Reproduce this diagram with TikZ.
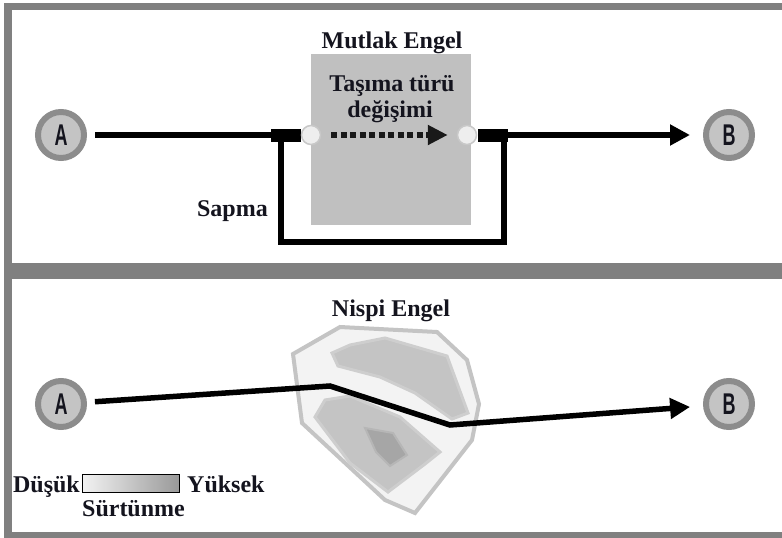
\documentclass[tikz,border=0pt]{standalone}
\usepackage{fontspec}
\usepackage{graphicx}
\setmainfont{Liberation Serif}
\newfontfamily\letterfont{Liberation Sans}
\usetikzlibrary{arrows.meta}
\definecolor{frame}{RGB}{128,128,128}
\definecolor{ringgray}{RGB}{140,140,140}
\definecolor{innergray}{RGB}{196,196,196}
\definecolor{boxgray}{RGB}{192,192,192}
\definecolor{portfill}{RGB}{238,238,238}
\definecolor{portedge}{RGB}{200,200,200}
\definecolor{txt}{RGB}{20,20,30}
\definecolor{zoneA}{RGB}{243,243,243}
\definecolor{zoneAedge}{RGB}{196,196,196}
\definecolor{zoneB}{RGB}{196,196,196}
\definecolor{zoneBedge}{RGB}{206,206,206}
\definecolor{zoneC}{RGB}{166,166,166}
\definecolor{zoneCedge}{RGB}{182,182,182}
\newcommand\ptletter[1]{{\letterfont\bfseries\fontsize{30}{30}\selectfont\scalebox{0.6}[1]{#1}}}
\tikzset{
  endpt/.style={circle, draw=ringgray, line width=6pt, fill=innergray, minimum size=46pt, inner sep=0pt,
    text=txt},
  lbl/.style={font=\fontsize{24}{28}\selectfont\bfseries, text=txt, inner sep=0pt},
  mainline/.style={line width=5.5pt, draw=black, line join=miter},
  tipA/.style={-{Triangle[length=20pt,width=20pt]}},
  blk/.style={fill=black, minimum width=30pt, minimum height=13pt, inner sep=0pt},
  port/.style={circle, fill=portfill, draw=portedge, line width=1.5pt, minimum size=19pt, inner sep=0pt},
  dotline/.style={line width=6pt, draw=black!90, dash pattern=on 6pt off 3.5pt},
  zone/.style={line join=miter}
}
\begin{document}
\begin{tikzpicture}[x=1pt,y=-1pt]
\useasboundingbox (0,0) rectangle (782,538);
% frames
\fill[white] (0,0) rectangle (782,538);
\fill[frame] (4,3) rectangle (782,538);
\fill[white] (11.5,10) rectangle (782,263);
\fill[white] (11.5,279) rectangle (782,532);

% ---------- top panel ----------
\node[fill=boxgray, minimum width=160pt, minimum height=171pt, inner sep=0pt] (box) at (391,139.5) {};
\node[lbl, anchor=base] (t1) at (392,48) {Mutlak Engel};
\node[lbl, anchor=base] (t2) at (392,91.5) {Taşıma türü};
\node[lbl, anchor=base] (t3) at (390,117) {değişimi};
\node[lbl, anchor=base east] (t4) at (268,216) {Sapma};

\node[endpt] (A1) at (61,135) {\ptletter{A}};
\node[endpt] (B1) at (729,135) {\ptletter{B}};
\node[blk] (bl1) at (286,135) {};
\node[blk] (bl2) at (493,135) {};
\coordinate (d1) at (281,242);
\coordinate (d2) at (504,242);
\draw[mainline] (bl1.center -| d1) -- (d1) -- (d2) -- (bl2.center -| d2);
\draw[mainline, shorten <=8pt] (A1) -- (bl1.west);
\draw[mainline, tipA, shorten >=13pt] (bl2.east) -- (B1);
\node[port] (p1) at (311,135) {};
\node[port] (p2) at (467,135) {};
\draw[dotline, -{Triangle[length=20pt,width=19pt]}, shorten <=10pt, shorten >=9pt] (p1) -- (p2);

% ---------- bottom panel ----------
\node[lbl, anchor=base] (t5) at (391,316) {Nispi Engel};
\filldraw[zone, fill=zoneA, draw=zoneAedge, line width=4pt]
  (293,354) -- (340,327) -- (437,332) -- (467,360) -- (479,404) -- (472,440) -- (415,513) -- (385,500) -- (302,423) -- cycle;
\filldraw[zone, fill=zoneB, draw=zoneBedge, line width=3pt]
  (332,353) -- (350,345) -- (385,338) -- (447,356) -- (468,413) -- (452,419) -- (415,393) -- (380,377) -- (338,366) -- cycle;
\filldraw[zone, fill=zoneB, draw=zoneBedge, line width=3pt]
  (315,417) -- (325,400) -- (350,396) -- (400,417) -- (440,452) -- (425,464) -- (388,492) -- (350,463) -- cycle;
\filldraw[zone, fill=zoneC, draw=zoneCedge, line width=2pt]
  (365,428) -- (393,433) -- (407,455) -- (390,466) -- (376,452) -- cycle;

\node[endpt] (A2) at (61,404) {\ptletter{A}};
\node[endpt] (B2) at (729,404) {\ptletter{B}};
\coordinate (k1) at (330,386);
\coordinate (k2) at (450,425);
\draw[mainline, tipA, shorten <=8pt, shorten >=13pt] (A2) -- (k1) -- (k2) -- (B2);

% legend
\node[draw=black, line width=1.5pt, minimum width=97pt, minimum height=18pt, inner sep=0pt,
  left color=white!95!black, right color=black!40] (scalebar) at (131,483.5) {};
\node[lbl, anchor=base east] (lo) at (80,492) {Düşük};
\node[lbl, anchor=base west] (hi) at (187,492) {Yüksek};
\node[lbl, anchor=base] (fr) at (133.5,516.5) {Sürtünme};
\end{tikzpicture}
\end{document}
